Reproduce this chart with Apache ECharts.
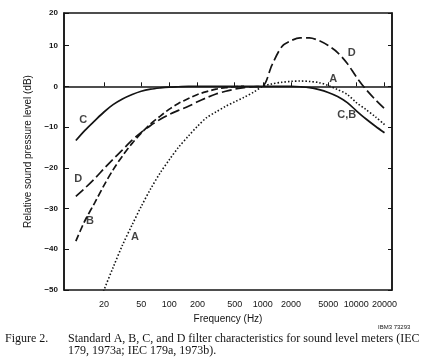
<!DOCTYPE html>
<html>
<head>
<meta charset="utf-8">
<script src="https://cdn.jsdelivr.net/npm/echarts@6/dist/echarts.min.js"></script>
<style>
html,body{margin:0;padding:0;background:#fff;}
#c{width:432px;height:360px;}
</style>
</head>
<body>
<div id="c"></div>
<script>
// Third-octave frequencies (Hz)
var freqs = [10,12.5,16,20,25,31.5,40,50,63,80,100,125,160,200,250,315,400,500,630,800,1000,1250,1600,2000,2500,3150,4000,5000,6300,8000,10000,12500,16000,20000];
// Relative response (dB)
var aWeight = [null,null,-56,-50,-44.5,-39,-34,-29.5,-25.2,-21.2,-18,-15,-12.2,-9.8,-7.7,-6.3,-4.9,-3.8,-2.7,-1.4,0,0.6,1.0,1.2,1.3,1.2,0.9,0.2,-0.8,-2.0,-4.0,-5.6,-7.5,-9.4];
var bWeight = [-38,-33,-28.5,-24.3,-20.5,-17.1,-14.0,-11.5,-9.2,-7.3,-5.6,-4.2,-3.0,-2.0,-1.3,-0.7,-0.3,-0.1,0,null,null,null,null,null,null,null,null,null,null,null,null,null,null,null];
var cWeight = [-13.3,-10.8,-8.4,-6.3,-4.5,-3.1,-2.0,-1.2,-0.7,-0.4,-0.2,-0.1,0,0,0,0,0,0,0,0,0,0,0,0,-0.1,-0.3,-0.8,-1.5,-2.5,-4.0,-6.0,-7.9,-9.8,-11.4];
var dWeight = [-27,-25,-22.6,-20.2,-17.9,-15.6,-13.2,-11.3,-9.6,-8.1,-6.9,-5.9,-4.9,-3.8,-2.8,-1.9,-1.2,-0.7,-0.3,-0.1,0.1,5.2,9.8,11.2,11.9,11.9,11.2,10.0,8.3,5.6,2.3,-0.6,-3.3,-5.5];
// Axis ticks
var xTicks = [20,50,100,200,500,1000,2000,5000,10000,20000];
var yMin = -50, yMax = 18, yStep = 10;
// Curve labels
var labelNames = ['C','D','B','A','D','A','C,B'];
var labelFreqs = [12.0,10.6,14.2,43,8900,5660,7890];
var labelDbs = [-8.2,-22.7,-33.1,-37.1,8.2,1.7,-7.1];

function pairs(vals){
  var out=[];
  for(var i=0;i<freqs.length;i++){ if(vals[i]!==null) out.push([freqs[i],vals[i]]); }
  return out;
}
var labelData = labelNames.map(function(n,i){return {name:n,value:[labelFreqs[i],labelDbs[i]]};});

var chart = echarts.init(document.getElementById('c'),null,{renderer:'canvas'});
var ink='#141414';
var lineBase = {type:'line',showSymbol:false,smooth:0.3,clip:true,silent:true};
chart.setOption({
  animation:false,
  backgroundColor:'#fff',
  grid:{left:64,right:40,top:13,bottom:70,show:true,borderColor:ink,borderWidth:1.5,backgroundColor:'transparent'},
  xAxis:{
    type:'log',logBase:10,min:7.47,max:24050,
    name:'Frequency (Hz)',nameLocation:'middle',nameGap:19,
    nameTextStyle:{fontFamily:'Liberation Sans',fontSize:10,color:ink},
    axisLine:{show:true,lineStyle:{color:ink,width:1.5}},
    axisTick:{show:true,inside:true,length:4,customValues:xTicks,lineStyle:{color:ink,width:1}},
    axisLabel:{show:true,customValues:xTicks,margin:10,fontFamily:'Liberation Sans',fontSize:9,color:ink,
      formatter:function(v){return String(Math.round(v));}},
    splitLine:{show:false},minorTick:{show:false}
  },
  yAxis:[{
    type:'value',min:yMin,max:yMax,interval:yStep,
    name:'Relative sound pressure level (dB)',nameLocation:'middle',nameGap:26,nameRotate:90,
    nameTextStyle:{fontFamily:'Liberation Sans',fontSize:10,color:ink},
    axisLine:{show:true,lineStyle:{color:ink,width:1.5}},
    axisTick:{show:true,inside:true,length:5,lineStyle:{color:ink,width:1}},
    axisLabel:{show:true,margin:6,fontFamily:'Liberation Sans',fontSize:8,fontWeight:'bold',color:ink,showMaxLabel:true,
      formatter:function(v){ if(v>15) return '20'; return v<0?('\u2212'+Math.abs(v)):String(v);}},
    splitLine:{show:false}
  },{
    type:'value',min:yMin,max:yMax,interval:yStep,position:'right',
    axisLine:{show:true,lineStyle:{color:ink,width:1.5}},
    axisTick:{show:true,inside:true,length:4,lineStyle:{color:ink,width:1}},
    axisLabel:{show:false},splitLine:{show:false}
  }],
  series:[
    Object.assign({},lineBase,{name:'C',data:pairs(cWeight),lineStyle:{color:ink,width:1.7,type:'solid'}}),
    Object.assign({},lineBase,{name:'B',data:pairs(bWeight),lineStyle:{color:ink,width:1.7,type:[7,3]}}),
    Object.assign({},lineBase,{name:'D',data:pairs(dWeight),lineStyle:{color:ink,width:1.7,type:[10,4]}}),
    Object.assign({},lineBase,{name:'A',data:pairs(aWeight),lineStyle:{color:ink,width:1.6,type:[1.5,2]}}),
    {type:'scatter',name:'labels',data:labelData,symbolSize:0,silent:true,
     label:{show:true,position:'inside',formatter:'{b}',fontFamily:'Liberation Sans',fontWeight:'bold',fontSize:11,color:ink}}
  ],
  graphic:[
    {type:'text',left:378,top:324,style:{text:'IBM3 73293',fontFamily:'Liberation Sans',fontSize:6,fill:ink}},
    {type:'text',left:5,top:333,style:{text:'Figure 2.',fontFamily:'Liberation Serif',fontSize:12,fill:ink}},
    {type:'text',left:68,top:333,style:{text:'Standard A, B, C, and D filter characteristics for sound level meters (IEC',fontFamily:'Liberation Serif',fontSize:12,fill:ink}},
    {type:'text',left:68,top:345,style:{text:'179, 1973a; IEC 179a, 1973b).',fontFamily:'Liberation Serif',fontSize:12,fill:ink}}
  ]
});
</script>
</body>
</html>
